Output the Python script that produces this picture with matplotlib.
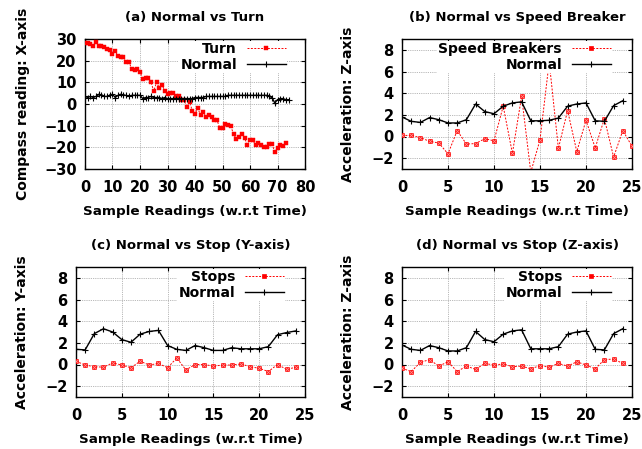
import matplotlib
matplotlib.use('Agg')
import matplotlib.pyplot as plt
import numpy as np

# ----- data -----
turn_vals = [28, 28, 27.5, 27, 28.5, 27, 27, 26.5, 25.5, 25, 23, 24.5, 22, 21.5, 21.5,
             19.5, 19.5, 16, 15.5, 16, 15, 11.5, 12, 12, 10, 6, 10, 7.5, 9, 6,
             4.5, 5, 5, 3.5, 3.5, 2, 2, -1.5, 1, -3, -4.5, -2, -5, -3.5, -6,
             -5, -6, -7.5, -7.5, -11, -11, -9, -9.5, -10, -14, -16, -15, -14, -15.5, -19,
             -16.5, -16.5, -19, -18, -19, -20, -20, -18.5, -18.5, -22, -20.5, -19, -19.5, -18]
turn_normal = [3.5, 3, 3.5, 3, 3.5, 4.5, 4, 3.5, 3.5, 4, 4.5, 3, 4, 4.5, 4,
               4, 3.5, 4, 4, 4, 4, 2.5, 3, 3, 3.5, 3, 3, 3, 2.5, 3,
               2.5, 2.5, 2.5, 2.5, 2.5, 2.5, 2.5, 2.5, 2.5, 2.5, 3, 3, 3, 3, 3.5,
               3.5, 3.5, 3.5, 3.5, 3.5, 3.5, 3.5, 4, 4, 4, 4, 4, 4, 4, 4,
               4, 4, 4, 4, 4, 4, 4, 3.5, 3, 0.5, 2, 2.5, 2.5, 2, 2]

speed_vals = [0.1, 0.1, -0.1, -0.45, -0.6, -1.6, 0.55, -0.7, -0.65, -0.2, -0.4, 2.8, -1.55,
              3.7, -3.3, -0.3, 6.9, -1.1, 2.4, -1.4, 1.5, -1.05, 1.65, -1.9, 0.55, -0.9]
normal_z = [1.8, 1.4, 1.3, 1.75, 1.55, 1.25, 1.25, 1.55, 3.0, 2.3, 2.1, 2.8, 3.1,
            3.2, 1.45, 1.45, 1.5, 1.7, 2.8, 3.0, 3.1, 1.45, 1.4, 2.85, 3.3]

stops_y = [0.3, -0.05, -0.2, -0.25, 0.15, -0.05, -0.3, 0.3, -0.05, 0.1, -0.3, 0.6, -0.5,
           0.0, 0.0, -0.15, -0.05, -0.05, 0.05, -0.2, -0.35, -0.65, 0.0, -0.45, -0.25]
normal_y = [1.4, 1.35, 2.85, 3.3, 3.0, 2.3, 2.05, 2.8, 3.05, 3.15, 1.75, 1.4, 1.3,
            1.75, 1.55, 1.3, 1.3, 1.55, 1.45, 1.45, 1.45, 1.65, 2.75, 2.95, 3.1]

stops_z = [-0.35, -0.65, 0.2, 0.45, -0.15, 0.25, -0.65, -0.15, -0.45, 0.1, -0.05, 0.05, -0.2,
           -0.15, -0.4, -0.1, -0.25, 0.1, -0.15, 0.25, -0.05, -0.4, 0.45, 0.5, 0.1]
normal_z2 = [1.8, 1.4, 1.3, 1.75, 1.55, 1.25, 1.25, 1.55, 3.05, 2.3, 2.1, 2.8, 3.1,
             3.2, 1.45, 1.45, 1.45, 1.65, 2.8, 3.0, 3.1, 1.4, 1.35, 2.85, 3.3]

plt.rcParams.update({'font.family': ['DejaVu Sans'],
                     'font.weight': 'bold',
                     'axes.labelweight': 'bold',
                     'axes.titleweight': 'bold'})

W, H = 642, 449
fig = plt.figure(figsize=(W / 100, H / 100), dpi=100)

RED = '#ff0000'


def px_axes(l, t, r, b):
    return fig.add_axes([l / W, 1 - b / H, (r - l) / W, (b - t) / H])


def style(ax, title, ylabel, xlim, ylim, xticks, yticks, ylab_dx):
    ax.set_xlim(*xlim)
    ax.set_ylim(*ylim)
    ax.set_xticks(xticks)
    ax.set_yticks(yticks)
    ax.grid(True, color='#a0a0a0', linestyle=(0, (1, 1.2)), linewidth=0.6)
    ax.set_axisbelow(True)
    ax.tick_params(axis='both', direction='in', length=3, width=0.8, labelsize=10.5,
                   top=True, right=True)
    ax.tick_params(axis='x', pad=8)
    ax.tick_params(axis='y', pad=6)
    for s in ax.spines.values():
        s.set_linewidth(1.0)
    ax.set_title(title, fontsize=9.5, pad=13)
    ax.set_xlabel('Sample Readings (w.r.t Time)', fontsize=9.7, labelpad=7)
    ax.set_ylabel(ylabel, fontsize=10)
    w = ax.get_position().width * W
    ax.yaxis.set_label_coords(-ylab_dx / w, 0.5)


def legend(ax, right_px):
    w = ax.get_position().width * W
    ax.legend(loc='upper right', bbox_to_anchor=(1 - right_px / w, 0.985),
              markerfirst=False, fontsize=10, handlelength=2.8, handletextpad=0.7,
              labelspacing=0.1, borderpad=0.1, borderaxespad=0, frameon=True,
              facecolor='white', edgecolor='none', framealpha=1, fancybox=False)


def red_line(ax, x, y, label, big=True):
    if big:
        ax.plot(x, y, color=RED, lw=0.7, linestyle=(0, (2, 1.5)), marker='s',
                markersize=3.2, markerfacecolor=RED, markeredgecolor=RED,
                markeredgewidth=0.5, label=label, zorder=3)
        ax.plot(x, y, linestyle='none', marker='x', markersize=2.4, color='#ff9090',
                markeredgewidth=0.6, zorder=3.1)
    else:
        ax.plot(x, y, color=RED, lw=0.7, linestyle=(0, (2, 1.5)), marker='s',
                markersize=2.4, markerfacecolor=RED, markeredgecolor=RED,
                markeredgewidth=0.3, label=label, zorder=3)


def black_line(ax, x, y):
    ax.plot(x, y, color='black', lw=1.0, marker='+', markersize=4,
            markeredgewidth=0.8, label='Normal', zorder=4)


# (a) Normal vs Turn
ax = px_axes(85, 39, 305, 169)
red_line(ax, np.arange(len(turn_vals)), turn_vals, 'Turn', big=False)
black_line(ax, np.arange(len(turn_normal)), turn_normal)
style(ax, '(a) Normal vs Turn', 'Compass reading: X-axis', (0, 80), (-30, 30),
      range(0, 81, 10), range(-30, 31, 10), 55)
legend(ax, 18)

# (b) Normal vs Speed Breaker
ax = px_axes(402, 39, 632, 169)
red_line(ax, np.arange(len(speed_vals)), speed_vals, 'Speed Breakers')
black_line(ax, np.arange(len(normal_z)), normal_z)
style(ax, '(b) Normal vs Speed Breaker', 'Acceleration: Z-axis', (0, 25), (-3, 9),
      range(0, 26, 5), range(-2, 9, 2), 47)
legend(ax, 20)

# (c) Normal vs Stop (Y-axis)
ax = px_axes(76, 267, 305, 397)
red_line(ax, np.arange(len(stops_y)), stops_y, 'Stops')
black_line(ax, np.arange(len(normal_y)), normal_y)
style(ax, '(c) Normal vs Stop (Y-axis)', 'Acceleration: Y-axis', (0, 25), (-3, 9),
      range(0, 26, 5), range(-2, 9, 2), 47)
legend(ax, 20)

# (d) Normal vs Stop (Z-axis)
ax = px_axes(402, 267, 632, 397)
red_line(ax, np.arange(len(stops_z)), stops_z, 'Stops')
black_line(ax, np.arange(len(normal_z2)), normal_z2)
style(ax, '(d) Normal vs Stop (Z-axis)', 'Acceleration: Z-axis', (0, 25), (-3, 9),
      range(0, 26, 5), range(-2, 9, 2), 47)
legend(ax, 20)

fig.savefig('out.png', dpi=100)
